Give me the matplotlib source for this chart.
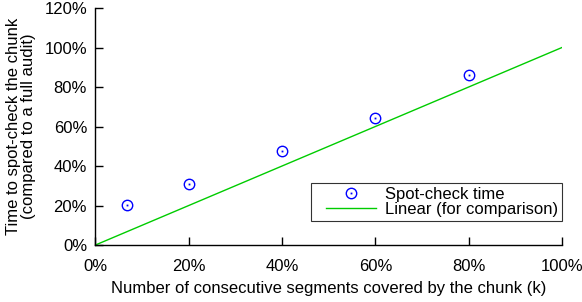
import matplotlib
matplotlib.use("Agg")
import matplotlib.pyplot as plt
from matplotlib.ticker import FuncFormatter
from matplotlib.legend_handler import HandlerLine2D, HandlerTuple

plt.rcParams['font.family'] = ['Liberation Sans', 'DejaVu Sans']

# data (percent)
k_pct = [6.7, 20, 40, 60, 80]
spot_time = [20.3, 31.0, 47.4, 64.5, 86.1]
lin_x = [0, 100]
lin_y = [0, 100]
xticks = [0, 20, 40, 60, 80, 100]
yticks = [0, 20, 40, 60, 80, 100, 120]

fs = 12

fig = plt.figure(figsize=(5.82, 3.02), dpi=100)
ax = fig.add_axes([0.164, 0.1887, 0.8016, 0.7848])

h_ring, = ax.plot(k_pct, spot_time, 'o', ms=7.5, mfc='none', mec='#0000ff', mew=1.0, ls='none')
h_dot, = ax.plot(k_pct, spot_time, 's', ms=1.3, mfc='#0000ff', mec='#0000ff', mew=0, ls='none')
h_lin, = ax.plot(lin_x, lin_y, color='#00cc00', lw=1)

ax.set_xlim(0, 100)
ax.set_ylim(0, 120)
ax.set_xticks(xticks)
ax.set_yticks(yticks)
pct = FuncFormatter(lambda v, p: '%d%%' % v)
ax.xaxis.set_major_formatter(pct)
ax.yaxis.set_major_formatter(pct)
ax.tick_params(direction='in', length=6, width=1, labelsize=fs)
ax.tick_params(axis='x', pad=10)
ax.tick_params(axis='y', pad=6)
for s in ['top', 'right']:
    ax.spines[s].set_visible(False)
for s in ['left', 'bottom']:
    ax.spines[s].set_linewidth(1)

ax.set_xlabel('Number of consecutive segments covered by the chunk (k)', fontsize=fs, labelpad=5)
ax.set_ylabel('Time to spot-check the chunk\n(compared to a full audit)', fontsize=fs,
              labelpad=6, linespacing=1.0)

# shift legend handles right a bit, like the gnuplot key
leg = ax.legend([(h_ring, h_dot), h_lin], ['Spot-check time', 'Linear (for comparison)'],
                loc='lower right', bbox_to_anchor=(1.0, 0.1), fontsize=fs,
                frameon=True, fancybox=False, handlelength=3.6, handletextpad=0.55,
                labelspacing=0.0, borderpad=0.25, borderaxespad=0,
                handler_map={h_lin: HandlerLine2D(xpad=0.65), tuple: HandlerTuple(xpad=0.65)})
leg.get_frame().set_edgecolor('black')
leg.get_frame().set_linewidth(0.8)

fig.savefig('out.png', dpi=100)
